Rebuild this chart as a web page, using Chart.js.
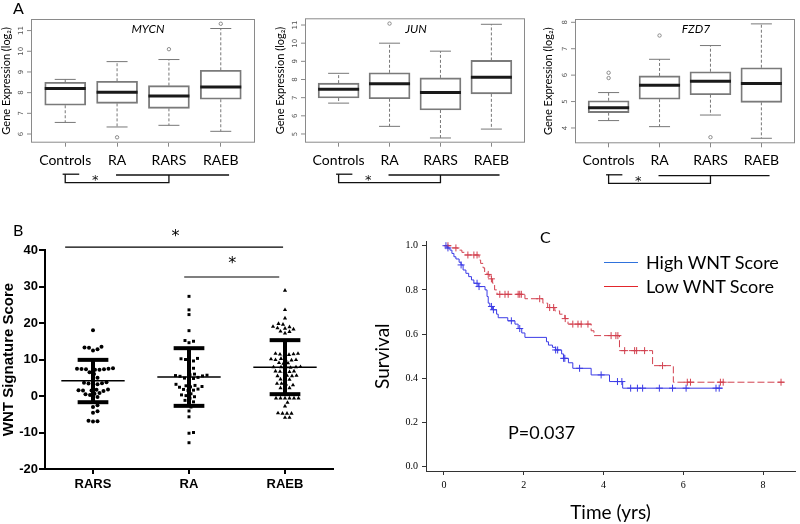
<!DOCTYPE html>
<html>
<head>
<meta charset="utf-8">
<script src="https://cdn.jsdelivr.net/npm/chart.js@4.4.1/dist/chart.umd.min.js"></script>
<style>
  body { margin: 0; background: #fff; }
  #fig { position: relative; width: 800px; height: 524px; overflow: hidden; font-family: Lato, "Open Sans", sans-serif; }
  #fig canvas { position: absolute; }
  .txt { position: absolute; white-space: nowrap; line-height: 1; color: #000; }
  .gene { font-style: italic; font-size: 12px; transform: translateX(-50%); }
  .key { position: absolute; height: 0; border-top: 1.5px solid; width: 34px; }
</style>
</head>
<body>
<div id="fig">
  <canvas id="mycn" width="265" height="195" style="left:0;top:0"></canvas>
  <canvas id="jun" width="265" height="195" style="left:265px;top:0"></canvas>
  <canvas id="fzd7" width="270" height="195" style="left:530px;top:0"></canvas>
  <canvas id="wnt" width="400" height="304" style="left:0;top:220px"></canvas>
  <canvas id="surv" width="440" height="304" style="left:360px;top:220px"></canvas>

  <div class="txt" style="left:13px;top:0;font-size:16px">A</div>
  <div class="txt" style="left:13px;top:222px;font-size:16px">B</div>
  <div class="txt" style="left:540px;top:229px;font-size:16px">C</div>
  <div class="txt gene" style="left:148px;top:23px">MYCN</div>
  <div class="txt gene" style="left:416px;top:23px">JUN</div>
  <div class="txt gene" style="left:696px;top:23px">FZD7</div>

  <div class="key" style="left:604px;top:262px;border-color:#2f72dc"></div>
  <div class="key" style="left:604px;top:286px;border-color:#e2262c"></div>
  <div class="txt" style="left:646px;top:253px;font-size:18px">High WNT Score</div>
  <div class="txt" style="left:646px;top:277px;font-size:18px">Low WNT Score</div>
  <div class="txt" style="left:508px;top:423px;font-size:18px">P=0.037</div>
</div>

<script>
// --- Panel A : boxplots [lower whisker, Q1, median, Q3, upper whisker] ---
const boxGroups = ["Controls", "RA", "RARS", "RAEB"];

const mycnBoxes = [[6.56, 7.39, 8.2, 8.5, 8.64], [6.34, 7.48, 8.02, 8.55, 9.5], [6.42, 7.24, 7.84, 8.34, 9.6], [6.13, 7.68, 8.27, 9.08, 11.1]];
const mycnOutliers = [[], [5.84], [10.1], [11.33]];
const mycnTicks = [6, 7, 8, 9, 10, 11];

const junBoxes = [[6.7, 6.98, 7.47, 7.8, 8.34], [5.42, 6.94, 7.76, 8.37, 10.0], [4.78, 6.32, 7.29, 8.09, 9.56], [5.27, 7.21, 8.13, 9.05, 11.04]];
const junOutliers = [[], [11.08], [], []];
const junTicks = [5, 6, 7, 8, 9, 10, 11];

const fzd7Boxes = [[4.28, 4.58, 4.77, 5.03, 5.34], [4.05, 5.09, 5.62, 5.97, 6.6], [4.49, 5.26, 5.77, 6.13, 7.12], [3.61, 4.97, 5.68, 6.28, 7.94]];
const fzd7Outliers = [[6.09, 5.89], [7.5], [3.65], []];
const fzd7Ticks = [4, 5, 6, 7, 8];

// --- Panel B : WNT signature scores ---
const wntGroups = ["RARS", "RA", "RAEB"];
const rarsScores = [18, 13.5, 13.3, 12.8, 12.5, 13.2, 9.5, 7.5, 7.4, 7.3, 7.2, 7.3, 7.5, 7.6, 7.2, 6.5, 6.0, 5.0, 4.8,
  3.8, 3.5, 3.2, 3.0, 3.4, 3.6, 1.8, 1.6, 1.5, 1.4, 1.7, 1.5, 0.8, 0.5, 0.3, 0.6, -0.3, -0.6, -2.5, -3.0, -4.2, -4.6, -6.8, -6.9, -7.0];
const raScores = [27.3, 23.6, 22.3, 17.9, 15.2, 15.0, 14.6, 11, 10.3, 10.2, 10.0, 9.6, 9.2, 7.6, 7.4, 6.0, 5.8, 5.6, 5.5, 5.4,
  5.7, 5.1, 4.9, 4.8, 4.6, 3.2, 2.8, 2.6, 2.4, 2.5, 2.9, 1.8, 1.6, 1.5, 1.9, 0.6, 0.3, 0.1, -0.2, -0.6, -1.2, -1.6, -1.8,
  -3.0, -4.1, -5.7, -10.0, -10.2, -12.8];
const raebScores = [28.9, 23.6, 21.3, 19.8, 18.5, 18.6, 19.0, 18.9, 19.6, 18.3, 17.7, 17.6, 17.2, 14.7, 11.4, 11.6, 11.3,
  11.2, 11.5, 11.6, 10.0, 9.9, 9.8, 10.2, 9.9, 10.1, 9.0, 8.9, 9.1, 7.9, 7.8, 7.8, 8.0, 7.9, 7.9, 6.8, 6.6, 6.7, 6.8, 6.6,
  5.6, 5.5, 5.6, 5.5, 4.5, 4.5, 4.6, 3.4, 3.2, 3.4, 3.0, 2.0, 2.2, 2.2, -0.6, -0.6, -0.6, -0.6, -0.6, -0.6, -1.8, -2.8,
  -4.8, -4.7, -4.8, -4.8, -5.9, -5.9];
const wntMean = [4.2, 5.2, 7.9];
const wntSdUpper = [9.9, 13.1, 15.3];
const wntSdLower = [-1.7, -2.7, 0.5];

// --- Panel C : Kaplan-Meier ---
const highTimes = [0, 0.08, 0.15, 0.2, 0.25, 0.3, 0.38, 0.43, 0.48, 0.55, 0.62, 0.69, 0.75, 0.86, 1.03, 1.08, 1.11, 1.15,
  1.22, 1.32, 1.36, 1.6, 1.78, 1.86, 1.95, 2.03, 2.57, 2.62, 2.72, 2.8, 2.95, 3.0, 3.12, 3.23, 3.69, 4.15, 4.48, 6.98];
const highSurv = [1.0, 0.99, 0.98, 0.965, 0.95, 0.94, 0.925, 0.913, 0.89, 0.875, 0.86, 0.845, 0.83, 0.815, 0.80, 0.77, 0.74,
  0.725, 0.71, 0.69, 0.674, 0.66, 0.645, 0.625, 0.605, 0.585, 0.565, 0.55, 0.54, 0.528, 0.51, 0.49, 0.47, 0.445, 0.415,
  0.385, 0.355, 0.355];
const highCensor = [0.05, 0.1, 0.43, 0.83, 0.88, 1.19, 1.24, 1.69, 1.9, 2.8, 2.85, 3.0, 3.03, 3.4, 3.94, 4.35, 4.46, 4.68,
  4.85, 4.98, 5.4, 5.73, 6.07, 6.82, 6.9];
const lowTimes = [0, 0.2, 0.35, 0.45, 0.52, 0.88, 0.92, 0.98, 1.02, 1.08, 1.15, 1.22, 1.27, 1.33, 2.03, 2.48, 2.6, 2.78,
  2.9, 3.03, 3.11, 3.69, 3.76, 4.4, 5.23, 5.75, 8.55];
const lowSurv = [1.0, 0.99, 0.98, 0.97, 0.958, 0.935, 0.92, 0.9, 0.88, 0.87, 0.85, 0.83, 0.80, 0.78, 0.76, 0.74, 0.72,
  0.705, 0.69, 0.67, 0.645, 0.615, 0.593, 0.525, 0.457, 0.382, 0.382];
const lowCensor = [0.1, 0.3, 0.6, 0.75, 0.83, 1.11, 1.19, 1.4, 1.53, 1.61, 1.86, 1.9, 1.94, 2.4, 2.65, 2.75, 3.04, 3.23,
  3.36, 3.44, 3.61, 4.19, 4.31, 4.36, 4.53, 4.78, 4.83, 5.03, 5.48, 6.1, 6.18, 6.93, 7.0, 8.45];
const survTicks = [0, 0.2, 0.4, 0.6, 0.8, 1.0];
const timeTicks = [0, 2, 4, 6, 8];

Chart.defaults.animation = false;
Chart.defaults.font.family = "Lato, 'Open Sans', sans-serif";
Chart.defaults.color = "#000";

// helper: line segment
function seg(ctx, x1, y1, x2, y2) {
  ctx.beginPath(); ctx.moveTo(x1, y1); ctx.lineTo(x2, y2); ctx.stroke();
}

// whiskers, medians, frame, rotated y ticks and the significance bracket
function boxExtras(boxes, yTicks) {
  return {
    id: "boxExtras",
    afterDatasetsDraw(chart) {
      const { ctx, chartArea: a, scales: { x, y } } = chart;
      ctx.save();
      boxes.forEach((b, i) => {
        const cx = x.getPixelForValue(i + 1);
        ctx.strokeStyle = "#777"; ctx.lineWidth = 1;
        ctx.setLineDash([3, 2]);
        seg(ctx, cx, y.getPixelForValue(b[3]), cx, y.getPixelForValue(b[4]));
        seg(ctx, cx, y.getPixelForValue(b[1]), cx, y.getPixelForValue(b[0]));
        ctx.setLineDash([]);
        seg(ctx, cx - 10.5, y.getPixelForValue(b[4]), cx + 10.5, y.getPixelForValue(b[4]));
        seg(ctx, cx - 10.5, y.getPixelForValue(b[0]), cx + 10.5, y.getPixelForValue(b[0]));
        ctx.strokeStyle = "#1a1a1a"; ctx.lineWidth = 3;
        seg(ctx, cx - 20.5, y.getPixelForValue(b[2]), cx + 20.5, y.getPixelForValue(b[2]));
      });
      // frame
      ctx.strokeStyle = "#8a8a8a"; ctx.lineWidth = 1;
      ctx.strokeRect(a.left + 0.5, a.top + 0.5, a.width - 1, a.height - 1);
      // y ticks (R style, rotated)
      ctx.fillStyle = "#555"; ctx.font = "7px 'DejaVu Sans', sans-serif";
      ctx.textAlign = "center"; ctx.textBaseline = "middle";
      yTicks.forEach(v => {
        const py = y.getPixelForValue(v);
        seg(ctx, a.left - 4, py, a.left, py);
        ctx.save(); ctx.translate(a.left - 10, py); ctx.rotate(-Math.PI / 2);
        ctx.fillText(String(v), 0, 0); ctx.restore();
      });
      // significance bracket
      const b0 = a.bottom;
      ctx.strokeStyle = "#111"; ctx.lineWidth = 1.3;
      seg(ctx, x.getPixelForValue(0.95), b0 + 31.5, x.getPixelForValue(1.27), b0 + 31.5);
      ctx.beginPath();
      ctx.moveTo(x.getPixelForValue(1), b0 + 31.5);
      ctx.lineTo(x.getPixelForValue(1), b0 + 40);
      ctx.lineTo(x.getPixelForValue(3), b0 + 40);
      ctx.lineTo(x.getPixelForValue(3), b0 + 32.3);
      ctx.stroke();
      seg(ctx, x.getPixelForValue(1.98), b0 + 32.3, x.getPixelForValue(4.16), b0 + 32.3);
      ctx.fillStyle = "#111"; ctx.font = "13px 'DejaVu Sans', sans-serif";
      ctx.fillText("*", x.getPixelForValue(1.58), b0 + 38);
      ctx.restore();
    }
  };
}

function makeBoxChart(id, boxes, outliers, yTicks, yMin, yMax, pad, yWidth, titlePad) {
  const boxData = boxes.map((b, i) => ({ x: i + 1, y: [b[1], b[3]] }));
  const outData = [];
  outliers.forEach((list, i) => list.forEach(v => outData.push({ x: i + 1, y: v })));
  const canvas = document.getElementById(id);
  new Chart(canvas, {
    type: "bar",
    data: {
      datasets: [
        { data: boxData, backgroundColor: "rgba(255,255,255,0)", borderColor: "#7a7a7a", borderWidth: 1.2,
          borderSkipped: false, barThickness: 41 },
        { type: "scatter", data: outData, pointRadius: 1.7, pointBorderWidth: 1, borderColor: "#8a8a8a",
          backgroundColor: "rgba(255,255,255,0)" }
      ]
    },
    options: {
      responsive: false,
      layout: { padding: { left: 0, top: pad.top, right: pad.right, bottom: 0 } },
      plugins: { legend: { display: false }, tooltip: { enabled: false } },
      scales: {
        x: {
          type: "linear", min: 0.34, max: 4.66, offset: false,
          afterBuildTicks: s => { s.ticks = [1, 2, 3, 4].map(v => ({ value: v })); },
          afterFit: s => { s.height = canvas.height - pad.bottom; },
          ticks: { callback: v => boxGroups[v - 1], font: { size: 14 }, padding: 5, maxRotation: 0, autoSkip: false },
          grid: { offset: false, drawOnChartArea: false, tickLength: 4, color: "#888" },
          border: { display: false }
        },
        y: {
          min: yMin, max: yMax,
          afterFit: s => { s.width = yWidth; },
          ticks: { display: false },
          grid: { display: false },
          border: { display: false },
          title: { display: true, text: "Gene Expression (log\u2082)", font: { size: 11 }, padding: { top: titlePad, bottom: 0 } }
        }
      }
    },
    plugins: [boxExtras(boxes, yTicks)]
  });
}

makeBoxChart("mycn", mycnBoxes, mycnOutliers, mycnTicks, 5.58, 11.56, { top: 19, right: 10, bottom: 142.7 }, 31, 0);
makeBoxChart("jun", junBoxes, junOutliers, junTicks, 4.52, 11.37, { top: 18.3, right: 1, bottom: 142.7 }, 40, 8.4);
makeBoxChart("fzd7", fzd7Boxes, fzd7Outliers, fzd7Ticks, 3.42, 8.125, { top: 19, right: 2, bottom: 143.3 }, 45, 11.4);

// --- Panel B ---
// spread points sideways so they do not overlap (beeswarm layout)
function swarm(values, center) {
  const unitX = 96, unitY = 3.64, dMin = 4.4;
  const placed = [];
  return values.slice().sort((a, b) => a - b).map(v => {
    let off = 0;
    for (let k = 0; k < 400; k++) {
      const cand = (k % 2 ? 1 : -1) * Math.ceil(k / 2) * 0.5;
      if (placed.every(p => Math.hypot(p.px - cand, (p.v - v) * unitY) >= dMin)) { off = cand; break; }
    }
    placed.push({ px: off, v });
    return { x: center + off / unitX, y: v };
  });
}

const wntCanvas = document.getElementById("wnt");
const boldFont = { family: "'Liberation Sans', Arial, sans-serif", size: 13, weight: "bold" };
new Chart(wntCanvas, {
  type: "scatter",
  data: {
    datasets: [
      { data: swarm(rarsScores, 1), pointStyle: "circle", pointRadius: 2, backgroundColor: "#000", borderColor: "#000", borderWidth: 0 },
      { data: swarm(raScores, 2), pointStyle: "rect", pointRadius: 2.1, backgroundColor: "#000", borderColor: "#000", borderWidth: 0 },
      { data: swarm(raebScores, 3), pointStyle: "triangle", pointRadius: 2.4, backgroundColor: "#000", borderColor: "#000", borderWidth: 0 }
    ]
  },
  options: {
    responsive: false,
    layout: { padding: { left: 0, top: 30, right: 67, bottom: 0 } },
    plugins: { legend: { display: false }, tooltip: { enabled: false } },
    scales: {
      x: {
        min: 0.5, max: 3.5,
        afterBuildTicks: s => { s.ticks = [1, 2, 3].map(v => ({ value: v })); },
        afterFit: s => { s.height = 55; },
        ticks: { callback: v => wntGroups[v - 1], font: boldFont, padding: 3, maxRotation: 0 },
        grid: { drawOnChartArea: false, tickLength: 5, color: "#000", lineWidth: 2 },
        border: { color: "#000", width: 2 }
      },
      y: {
        min: -20, max: 40,
        afterFit: s => { s.width = 45; },
        ticks: { stepSize: 10, font: boldFont, padding: 1 },
        grid: { drawOnChartArea: false, tickLength: 6, color: "#000", lineWidth: 2 },
        border: { color: "#000", width: 2 },
        title: { display: true, text: "WNT Signature Score", font: { family: boldFont.family, size: 15, weight: "bold" }, padding: 0 }
      }
    }
  },
  plugins: [{
    id: "meanSd",
    afterDatasetsDraw(chart) {
      const { ctx, scales: { x, y } } = chart;
      ctx.save();
      ctx.strokeStyle = "#000";
      wntMean.forEach((m, i) => {
        const c = i + 1;
        ctx.lineWidth = 1.5;
        seg(ctx, x.getPixelForValue(c - 0.33), y.getPixelForValue(m), x.getPixelForValue(c + 0.33), y.getPixelForValue(m));
        ctx.lineWidth = 4;
        seg(ctx, x.getPixelForValue(c), y.getPixelForValue(wntSdUpper[i]), x.getPixelForValue(c), y.getPixelForValue(wntSdLower[i]));
        seg(ctx, x.getPixelForValue(c - 0.16), y.getPixelForValue(wntSdUpper[i]), x.getPixelForValue(c + 0.16), y.getPixelForValue(wntSdUpper[i]));
        seg(ctx, x.getPixelForValue(c - 0.16), y.getPixelForValue(wntSdLower[i]), x.getPixelForValue(c + 0.16), y.getPixelForValue(wntSdLower[i]));
      });
      // significance bars
      ctx.lineWidth = 1.2;
      seg(ctx, x.getPixelForValue(0.71), y.getPixelForValue(40.8), x.getPixelForValue(2.98), y.getPixelForValue(40.8));
      seg(ctx, x.getPixelForValue(1.95), y.getPixelForValue(32.6), x.getPixelForValue(2.94), y.getPixelForValue(32.6));
      ctx.fillStyle = "#000"; ctx.font = "16px 'DejaVu Sans', sans-serif";
      ctx.textAlign = "center"; ctx.textBaseline = "middle";
      ctx.fillText("*", x.getPixelForValue(1.86), y.getPixelForValue(43.6));
      ctx.fillText("*", x.getPixelForValue(2.45), y.getPixelForValue(36.2));
      ctx.restore();
    }
  }]
});

// --- Panel C ---
function survAt(times, surv, t) {
  let s = surv[0];
  times.forEach((tt, i) => { if (tt <= t) s = surv[i]; });
  return s;
}
const serifFont = { family: "'Liberation Serif', 'DejaVu Serif', serif", size: 10 };
const survCanvas = document.getElementById("surv");
new Chart(survCanvas, {
  type: "scatter",
  data: {
    datasets: [
      { data: highTimes.map((t, i) => ({ x: t, y: highSurv[i] })), showLine: true, stepped: true, pointRadius: 0,
        borderColor: "#3b3be6", borderWidth: 1 },
      { data: lowTimes.map((t, i) => ({ x: t, y: lowSurv[i] })), showLine: true, stepped: true, pointRadius: 0,
        borderColor: "#d2404f", borderWidth: 1, borderDash: [7, 3] },
      { data: highCensor.map(t => ({ x: t, y: survAt(highTimes, highSurv, t) })), pointStyle: "cross", pointRadius: 3.5,
        borderColor: "#3b3be6", borderWidth: 1 },
      { data: lowCensor.map(t => ({ x: t, y: survAt(lowTimes, lowSurv, t) })), pointStyle: "cross", pointRadius: 3.5,
        borderColor: "#d2404f", borderWidth: 1 }
    ]
  },
  options: {
    responsive: false,
    layout: { padding: { left: 0, top: 21.3, right: 4, bottom: 0 } },
    plugins: { legend: { display: false }, tooltip: { enabled: false } },
    scales: {
      x: {
        min: -0.45, max: 8.8,
        afterBuildTicks: s => { s.ticks = timeTicks.map(v => ({ value: v })); },
        afterFit: s => { s.height = 53; },
        ticks: { font: serifFont, padding: 4, maxRotation: 0 },
        grid: { drawOnChartArea: false, tickLength: 4, color: "#333" },
        border: { color: "#333", width: 1 },
        title: { display: true, text: "Time (yrs)", font: { size: 19 }, padding: 0 }
      },
      y: {
        min: -0.02, max: 1.02,
        afterBuildTicks: s => { s.ticks = survTicks.map(v => ({ value: v })); },
        afterFit: s => { s.width = 66; },
        ticks: { font: serifFont, padding: 4, callback: v => v.toFixed(1) },
        grid: { drawOnChartArea: false, tickLength: 4, color: "#333" },
        border: { color: "#333", width: 1 },
        title: { display: true, text: "Survival", font: { size: 19 }, padding: { top: 11.5, bottom: 0 } }
      }
    }
  }
});
</script>
</body>
</html>
